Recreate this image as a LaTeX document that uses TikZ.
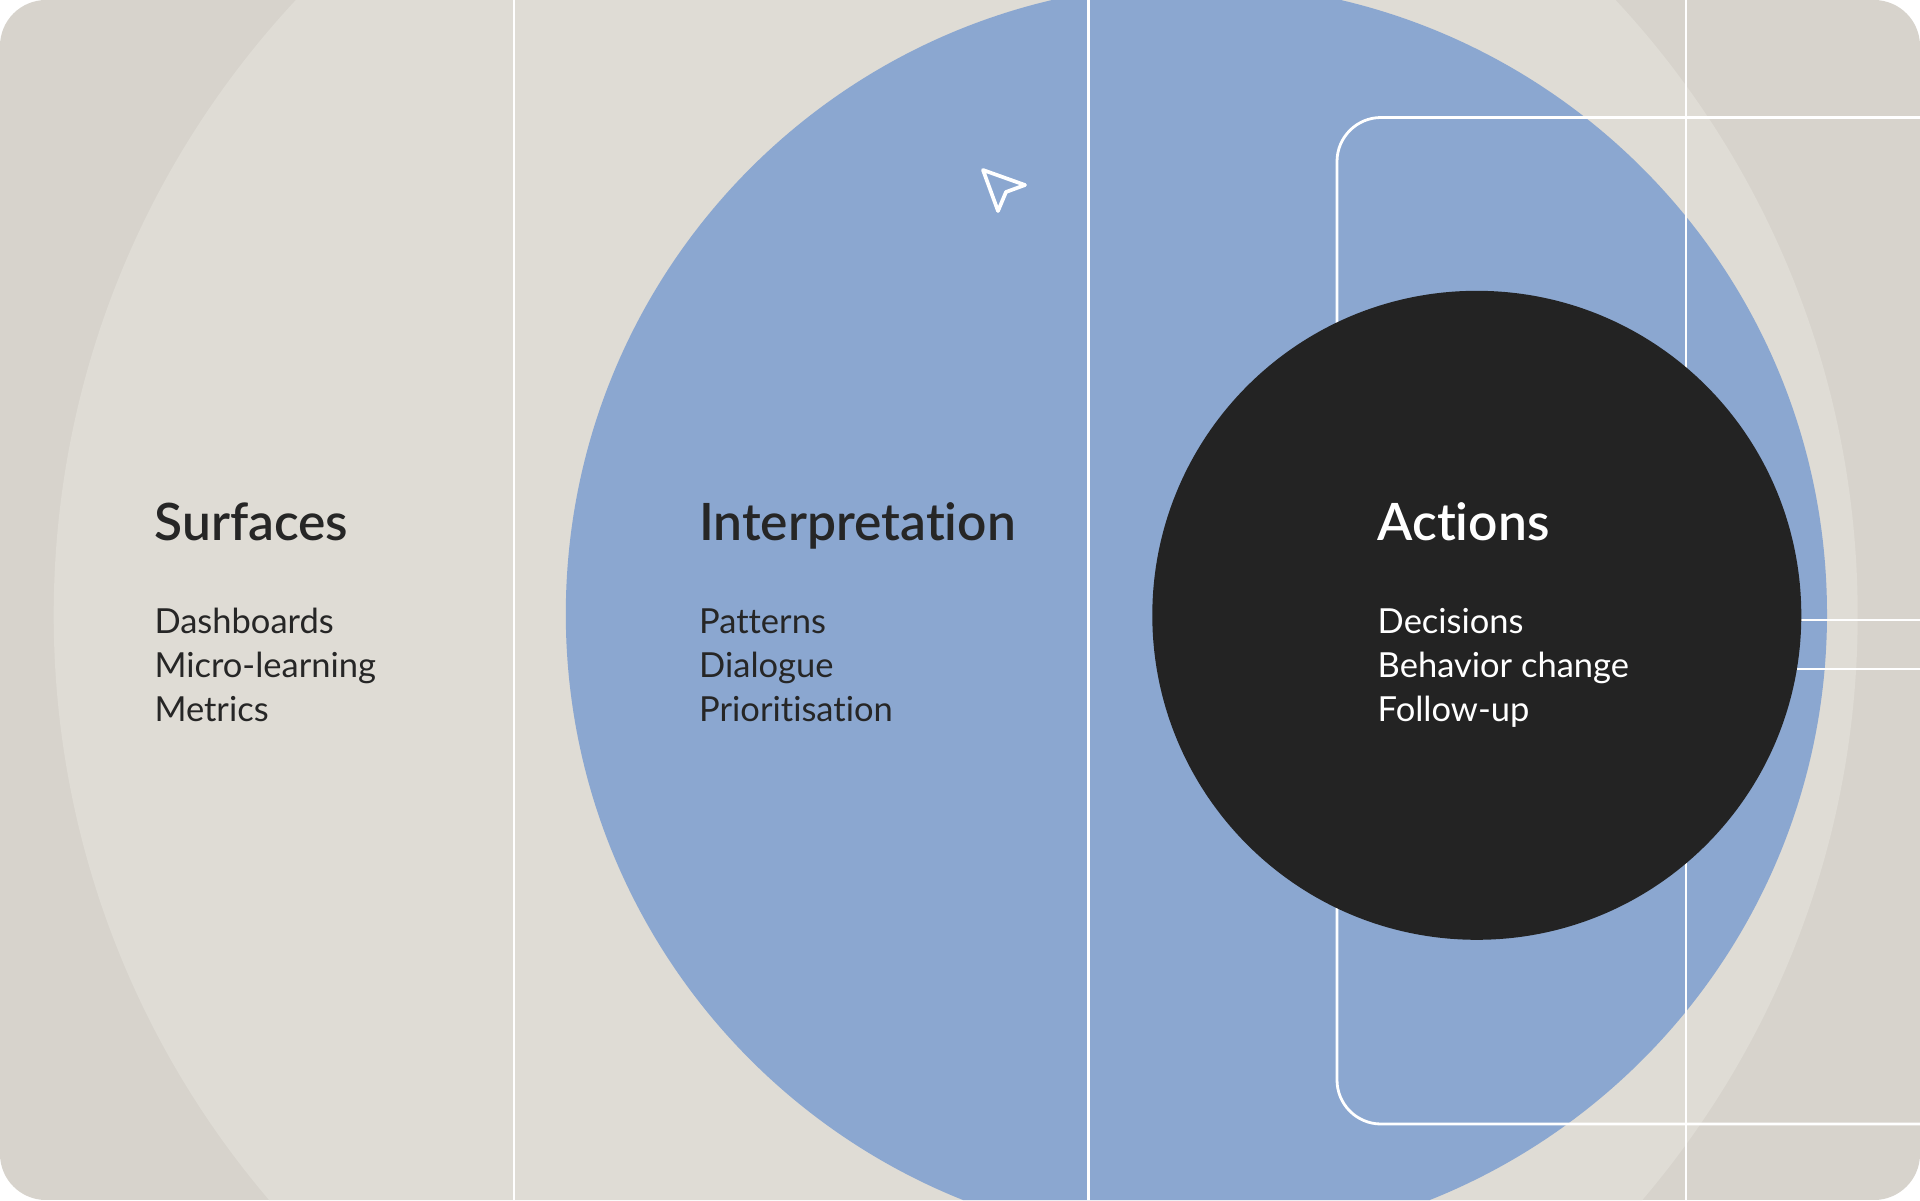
\documentclass[tikz,border=0pt]{standalone}
\usepackage{fontspec}
\setmainfont{Lato}[Ligatures=NoCommon]
\newfontfamily\headfont{Lato Semibold}[Ligatures=NoCommon]
\usetikzlibrary{positioning}
\definecolor{paper}{HTML}{D7D3CC}
\definecolor{ring}{HTML}{DFDCD5}
\definecolor{sky}{HTML}{8BA7D0}
\definecolor{ink}{HTML}{232323}
\definecolor{textdark}{HTML}{262626}

\begin{document}
\begin{tikzpicture}[x=1pt,y=-1pt]
 \tikzset{
 	grid line/.style={draw=white,line width=2.8pt},
 	head node/.style={anchor=base west,inner sep=0,font=\headfont\fontsize{51.5}{60}\selectfont},
 	item node/.style={anchor=base west,inner sep=0,font=\fontsize{34.5}{40}\selectfont},
 	act node/.style={circle,fill=ink,inner sep=0,minimum size=649pt}
 }
 \useasboundingbox (0,0) rectangle (1920,1200);
 \fill[white] (0,0) rectangle (1920,1200);

 \begin{scope}
   \clip[rounded corners=46pt] (0,0) rectangle (1920,1200);
   \fill[paper] (0,0) rectangle (1920,1200);
   \fill[ring] (955.7,615) circle (902pt);
   \fill[sky] (1196.4,614) circle (630.6pt);

   % white guide lines
   \foreach \x in {514,1088.6,1686}
     \draw[grid line] (\x,-10) -- (\x,1210);
   \draw[grid line,rounded corners=44pt] (1990,117.5) -- (1337,117.5) -- (1337,1124) -- (1990,1124);
   \draw[grid line] (1700,620) -- (1930,620);
   \draw[grid line] (1700,669) -- (1930,669);

   \node[act node] (act) at (1476.8,615.3) {};
 \end{scope}

 % cursor
 \draw[white,line width=3.7pt,line join=round] (983,170) -- (1025,185) -- (1006,192) -- (998,211) -- cycle;

 \node[head node,text=textdark] (surf) at (154.3,540) {Surfaces};
 \node[item node,text=textdark] (surf1) at (154.3,633.1) {Dashboards};
 \node[item node,text=textdark] (surf2) at (154.3,677.2) {Micro-learning};
 \node[item node,text=textdark] (surf3) at (154.3,721.2) {Metrics};

 \node[head node,text=textdark] (interp) at (699,540) {Interpretation};
 \node[item node,text=textdark] (interp1) at (699,633.1) {Patterns};
 \node[item node,text=textdark] (interp2) at (699,677.2) {Dialogue};
 \node[item node,text=textdark] (interp3) at (699,721.2) {Prioritisation};

 \node[head node,text=white] (actn) at (1377.5,540) {Actions};
 \node[item node,text=white] (actn1) at (1377.5,633.1) {Decisions};
 \node[item node,text=white] (actn2) at (1377.5,677.2) {Behavior change};
 \node[item node,text=white] (actn3) at (1377.5,721.2) {Follow-up};
\end{tikzpicture}
\end{document}
